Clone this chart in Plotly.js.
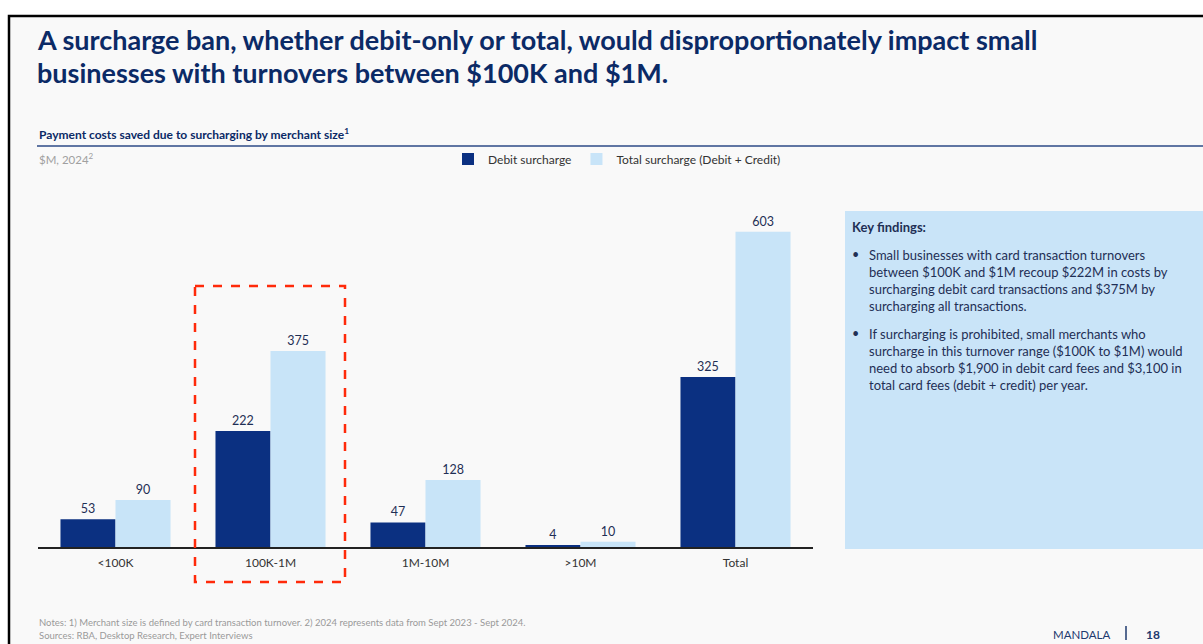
<!DOCTYPE html>
<html>
<head>
<meta charset="utf-8">
<script src="https://cdn.plot.ly/plotly-3.0.1.min.js"></script>
<style>
  html, body { margin: 0; padding: 0; background: #ffffff; }
  #chart { width: 1203px; height: 644px; }
</style>
</head>
<body>
<div id="chart"></div>
<script>
// ---- Data ----
const categories = ["<100K", "100K-1M", "1M-10M", ">10M", "Total"];
const debitSurcharge = [53, 222, 47, 4, 325];
const totalSurcharge = [90, 375, 128, 10, 603];
const seriesNames = ["Debit surcharge", "Total surcharge (Debit + Credit)"];

const titleLines = [
  "A surcharge ban, whether debit-only or total, would disproportionately impact small",
  "businesses with turnovers between $100K and $1M."
];
const chartSubtitle = "Payment costs saved due to surcharging by merchant size<sup>1</sup>";
const unitLabel = "$M, 2024<sup>2</sup>";
const findingsTitle = "Key findings:";
const findingsBullets = [
  ["Small businesses with card transaction turnovers",
   "between $100K and $1M recoup $222M in costs by",
   "surcharging debit card transactions and $375M by",
   "surcharging all transactions."],
  ["If surcharging is prohibited, small merchants who",
   "surcharge in this turnover range ($100K to $1M) would",
   "need to absorb $1,900 in debit card fees and $3,100 in",
   "total card fees (debit + credit) per year."]
];
const notesLines = [
  "Notes: 1) Merchant size is defined by card transaction turnover. 2) 2024 represents data from Sept 2023 - Sept 2024.",
  "Sources: RBA, Desktop Research, Expert Interviews"
];
const brand = "MANDALA";
const pageNumber = "18";

// ---- Layout geometry (pixels) ----
const W = 1203, H = 644;
const mL = 38, mR = 390, mT = 181, mB = 97;
const plotW = W - mL - mR, plotH = H - mT - mB;
const px = x => (x - mL) / plotW;
const py = y => (H - mB - y) / plotH;

const navy = "#0b3081";
const lightBlue = "#c8e4f8";
const textNavy = "#0b2a66";
const FONT = "Lato, 'Open Sans', sans-serif";

const traces = [
  {
    type: "bar", name: seriesNames[0], x: categories, y: debitSurcharge,
    marker: { color: navy },
    text: debitSurcharge.map(String), textposition: "outside",
    textfont: { family: FONT, size: 12.5, color: "#1f2f55" },
    cliponaxis: false, hoverinfo: "x+y"
  },
  {
    type: "bar", name: seriesNames[1], x: categories, y: totalSurcharge,
    marker: { color: lightBlue },
    text: totalSurcharge.map(String), textposition: "outside",
    textfont: { family: FONT, size: 12.5, color: "#1f2f55" },
    cliponaxis: false, hoverinfo: "x+y"
  }
];

const annotations = [];
function ann(text, x, y, opts) {
  annotations.push(Object.assign({
    text: text, xref: "paper", yref: "paper", x: px(x), y: py(y),
    xanchor: "left", yanchor: "middle", showarrow: false, align: "left",
    font: { family: FONT, size: 12, color: textNavy }
  }, opts || {}));
}

// Title
ann("<b>" + titleLines[0] + "</b>", 35, 39, { font: { family: FONT, size: 27, color: "#0b2a66" } });
ann("<b>" + titleLines[1] + "</b>", 35, 73, { font: { family: FONT, size: 27, color: "#0b2a66" } });
// Subtitle
ann("<b>" + chartSubtitle + "</b>", 37, 134, { font: { family: FONT, size: 12, color: "#0b2a66" } });
ann(unitLabel, 37, 159, { font: { family: FONT, size: 11.5, color: "#a0a0a0" } });

// Key findings
ann("<b>" + findingsTitle + "</b>", 850, 227, { font: { family: FONT, size: 13, color: "#1f2f55" } });
const bulletTops = [254, 333];
findingsBullets.forEach((lines, i) => {
  ann("•", 850, bulletTops[i], { font: { family: FONT, size: 12.5, color: "#1f2f55" } });
  ann(lines.join("<br>"), 867, bulletTops[i] - 9, {
    yanchor: "top", font: { family: FONT, size: 13, color: "#1f2f55" }
  });
});

// Notes
ann(notesLines[0], 37, 622, { font: { family: FONT, size: 9.5, color: "#9a9a9a" } });
ann(notesLines[1], 37, 635, { font: { family: FONT, size: 9.5, color: "#9a9a9a" } });
ann(brand, 1051, 634, { font: { family: FONT, size: 11.5, color: "#1f3a6e" } });
ann("<b>" + pageNumber + "</b>", 1144, 634, { font: { family: FONT, size: 12, color: "#1f3a6e" } });

const shapes = [
  // slide background + frame
  { type: "rect", xref: "paper", yref: "paper", x0: px(9), x1: px(1210), y0: py(16), y1: py(660),
    fillcolor: "#f9f9f9", line: { color: "#000000", width: 2.5 }, layer: "below" },
  // subtitle rule
  { type: "line", xref: "paper", yref: "paper", x0: px(37), x1: px(1203), y0: py(146), y1: py(146),
    line: { color: "#2c4a86", width: 1.5 } },
  // key findings box
  { type: "rect", xref: "paper", yref: "paper", x0: px(845), x1: px(1203), y0: py(211), y1: py(549),
    fillcolor: "#c9e4f8", line: { width: 0 }, layer: "below" },
  // highlight dashed box
  { type: "rect", xref: "paper", yref: "paper", x0: px(195), x1: px(345), y0: py(286), y1: py(582),
    fillcolor: "rgba(0,0,0,0)", line: { color: "#ff2a0a", width: 2.5, dash: "dash" } },
  // footer divider
  { type: "line", xref: "paper", yref: "paper", x0: px(1126), x1: px(1126), y0: py(626), y1: py(640),
    line: { color: "#1f3a6e", width: 1.5 } }
];

const layout = {
  width: W, height: H,
  margin: { l: mL, r: mR, t: mT, b: mB, pad: 0 },
  paper_bgcolor: "#ffffff",
  plot_bgcolor: "rgba(0,0,0,0)",
  barmode: "group", bargap: 0.29, bargroupgap: 0,
  font: { family: FONT, color: "#333333" },
  showlegend: true,
  legend: {
    orientation: "h", x: px(448), y: py(159), xanchor: "left", yanchor: "middle",
    bgcolor: "rgba(0,0,0,0)", font: { family: FONT, size: 12, color: "#333333" },
    itemwidth: 30, traceorder: "normal"
  },
  xaxis: {
    type: "category", showgrid: false, zeroline: false,
    showline: true, linecolor: "#222222", linewidth: 1.5,
    ticks: "", ticklabelstandoff: 4,
    tickfont: { family: FONT, size: 12, color: "#333333" },
    fixedrange: true
  },
  yaxis: {
    range: [0, 700], visible: false, showgrid: false, zeroline: false, fixedrange: true
  },
  shapes: shapes,
  annotations: annotations
};

Plotly.newPlot("chart", traces, layout, { displayModeBar: false, staticPlot: true });
</script>
</body>
</html>
